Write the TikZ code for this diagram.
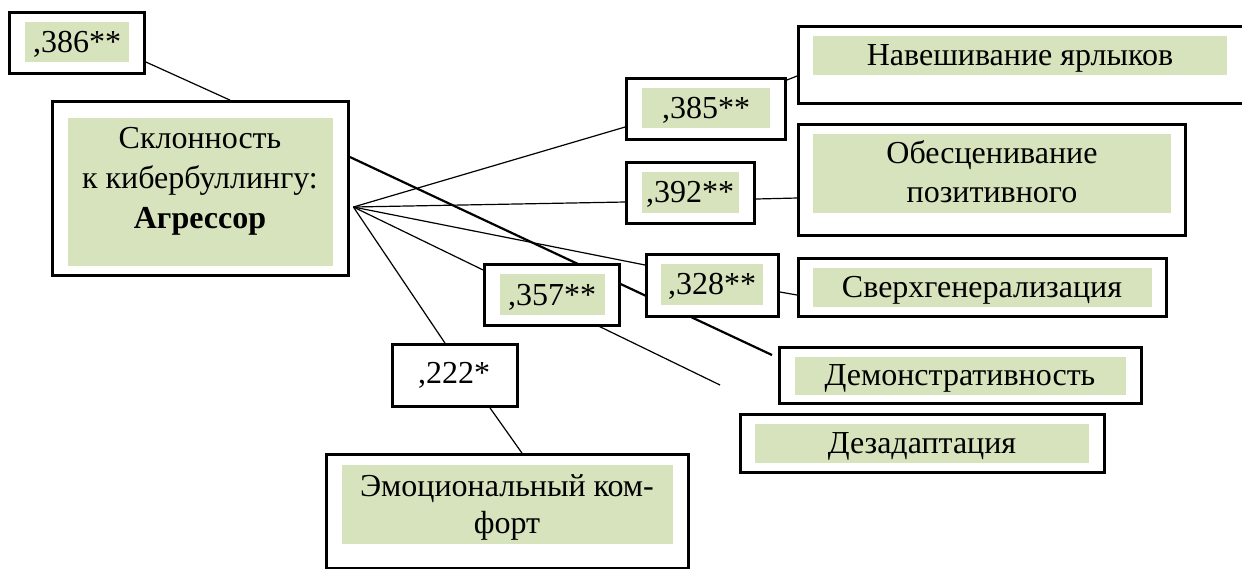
\documentclass[tikz,border=0pt]{standalone}
\usepackage{fontspec}
\setmainfont{Liberation Serif}
\usetikzlibrary{fit,calc}
\definecolor{gfill}{HTML}{D6E3BC}
\pgfdeclarelayer{bg}
\pgfsetlayers{bg,main}
\begin{document}
\begin{tikzpicture}[x=0.5pt,y=-0.5pt,
  outerbox/.style={draw=black, line width=1.4pt, fill=white, inner sep=0pt},
  greenbg/.style={fill=gfill, draw=none, inner sep=0pt},
  lbl/.style={font=\fontsize{16}{19.5}\selectfont, inner sep=0pt, align=center, anchor=base},
  thinline/.style={line width=0.6pt},
  thickline/.style={line width=1.1pt}]
\useasboundingbox (0,0) rectangle (1242,570);

% boxes
\node[outerbox, fit={(9.5,12.5)(144.5,73.5)}] (b386) {};
\node[greenbg, fit={(25,22)(129,62)}] (g386) {};
\node[lbl] (t386) at (77,52) {,386**};

\node[outerbox, fit={(52.5,101.5)(348.5,275.5)}] (main) {};
\node[greenbg, fit={(68,118)(333,266)}] (gmain) {};
\node[lbl, font=\fontsize{16}{20}\selectfont] (tmain) at (200,228) {Склонность\\к кибербуллингу:\\\textbf{Агрессор}};

\node[outerbox, fit={(626.5,78.5)(785.5,139.5)}] (b385) {};
\node[greenbg, fit={(642,88)(770,128)}] (g385) {};
\node[lbl] (t385) at (706,118) {,385**};

\node[outerbox, fit={(626.5,162.5)(754.5,223.5)}] (b392) {};
\node[greenbg, fit={(642,172)(739,213)}] (g392) {};
\node[lbl] (t392) at (690,202) {,392**};

\node[outerbox, fit={(484.5,264.5)(619.5,325.5)}] (b357) {};
\node[greenbg, fit={(500,274)(605,315)}] (g357) {};
\node[lbl] (t357) at (552,305) {,357**};

\node[outerbox, fit={(646.5,254.5)(778.5,316.5)}] (b328) {};
\node[greenbg, fit={(661,264)(763,305)}] (g328) {};
\node[lbl] (t328) at (712,294) {,328**};

\node[outerbox, fit={(392.5,344.5)(517.5,406.5)}] (b222) {};
\node[lbl] (t222) at (454,383) {,222*};

\node[outerbox, fit={(798.5,26.5)(1244.5,103.5)}] (nav) {};
\node[greenbg, fit={(813,36)(1227,75)}] (gnav) {};
\node[lbl] (tnav) at (1020,65) {Навешивание ярлыков};

\node[outerbox, fit={(798.5,124.5)(1185.5,235.5)}] (obs) {};
\node[greenbg, fit={(813,134)(1171,213)}] (gobs) {};
\node[lbl] (tobs) at (992,202) {Обесценивание\\позитивного};

\node[outerbox, fit={(798.5,258.5)(1166.5,316.5)}] (sv) {};
\node[greenbg, fit={(813,268)(1152,307)}] (gsv) {};
\node[lbl] (tsv) at (982,297) {Сверхгенерализация};

\node[outerbox, fit={(779.5,347.5)(1141.5,403.5)}] (dem) {};
\node[greenbg, fit={(795,357)(1126,395)}] (gdem) {};
\node[lbl] (tdem) at (960,385) {Демонстративность};

\node[outerbox, fit={(740.5,414.5)(1104.5,472.5)}] (dez) {};
\node[greenbg, fit={(755,424)(1089,463)}] (gdez) {};
\node[lbl] (tdez) at (922,453) {Дезадаптация};

\node[outerbox, fit={(326.5,454.5)(688.5,568)}] (emo) {};
\node[greenbg, fit={(342,465)(673,544)}] (gemo) {};
\node[lbl, font=\fontsize{16}{18.5}\selectfont] (temo) at (507,533) {Эмоциональный ком-\\форт};

% connector points
\coordinate (o) at ($(main.east)+(3.5,18.5)$);
\coordinate (demend) at (772,355);
\coordinate (dezend) at (720,385);

\begin{pgfonlayer}{bg}
\draw[thinline] ($(b386.east)+(0,19)$) -- ($(main.north)+(29.5,0)$);
\draw[thickline] ($(main.east)+(0,-31.5)$) -- (demend);
\draw[thinline] (o) -- ($(b385.west)+(0,18)$);
\draw[thinline] (o) -- ($(b392.west)+(0,9)$);
\draw[thinline] (o) -- ($(b328.west)+(0,-20.5)$);
\draw[thinline] (o) -- (dezend);
\draw[thinline] (o) -- ($(b222.north)+(-10,0)$);
\draw[thinline] ($(b222.south)+(35,0)$) -- ($(emo.north)+(14.5,0)$);
\draw[thinline] ($(b385.east)+(0,-29)$) -- ($(nav.west)+(0,11)$);
\draw[thinline] ($(b392.east)+(0,6)$) -- ($(obs.west)+(0,18)$);
\draw[thinline] ($(b328.east)+(0,6.5)$) -- ($(sv.west)+(0,7.5)$);
\end{pgfonlayer}
\end{tikzpicture}
\end{document}
